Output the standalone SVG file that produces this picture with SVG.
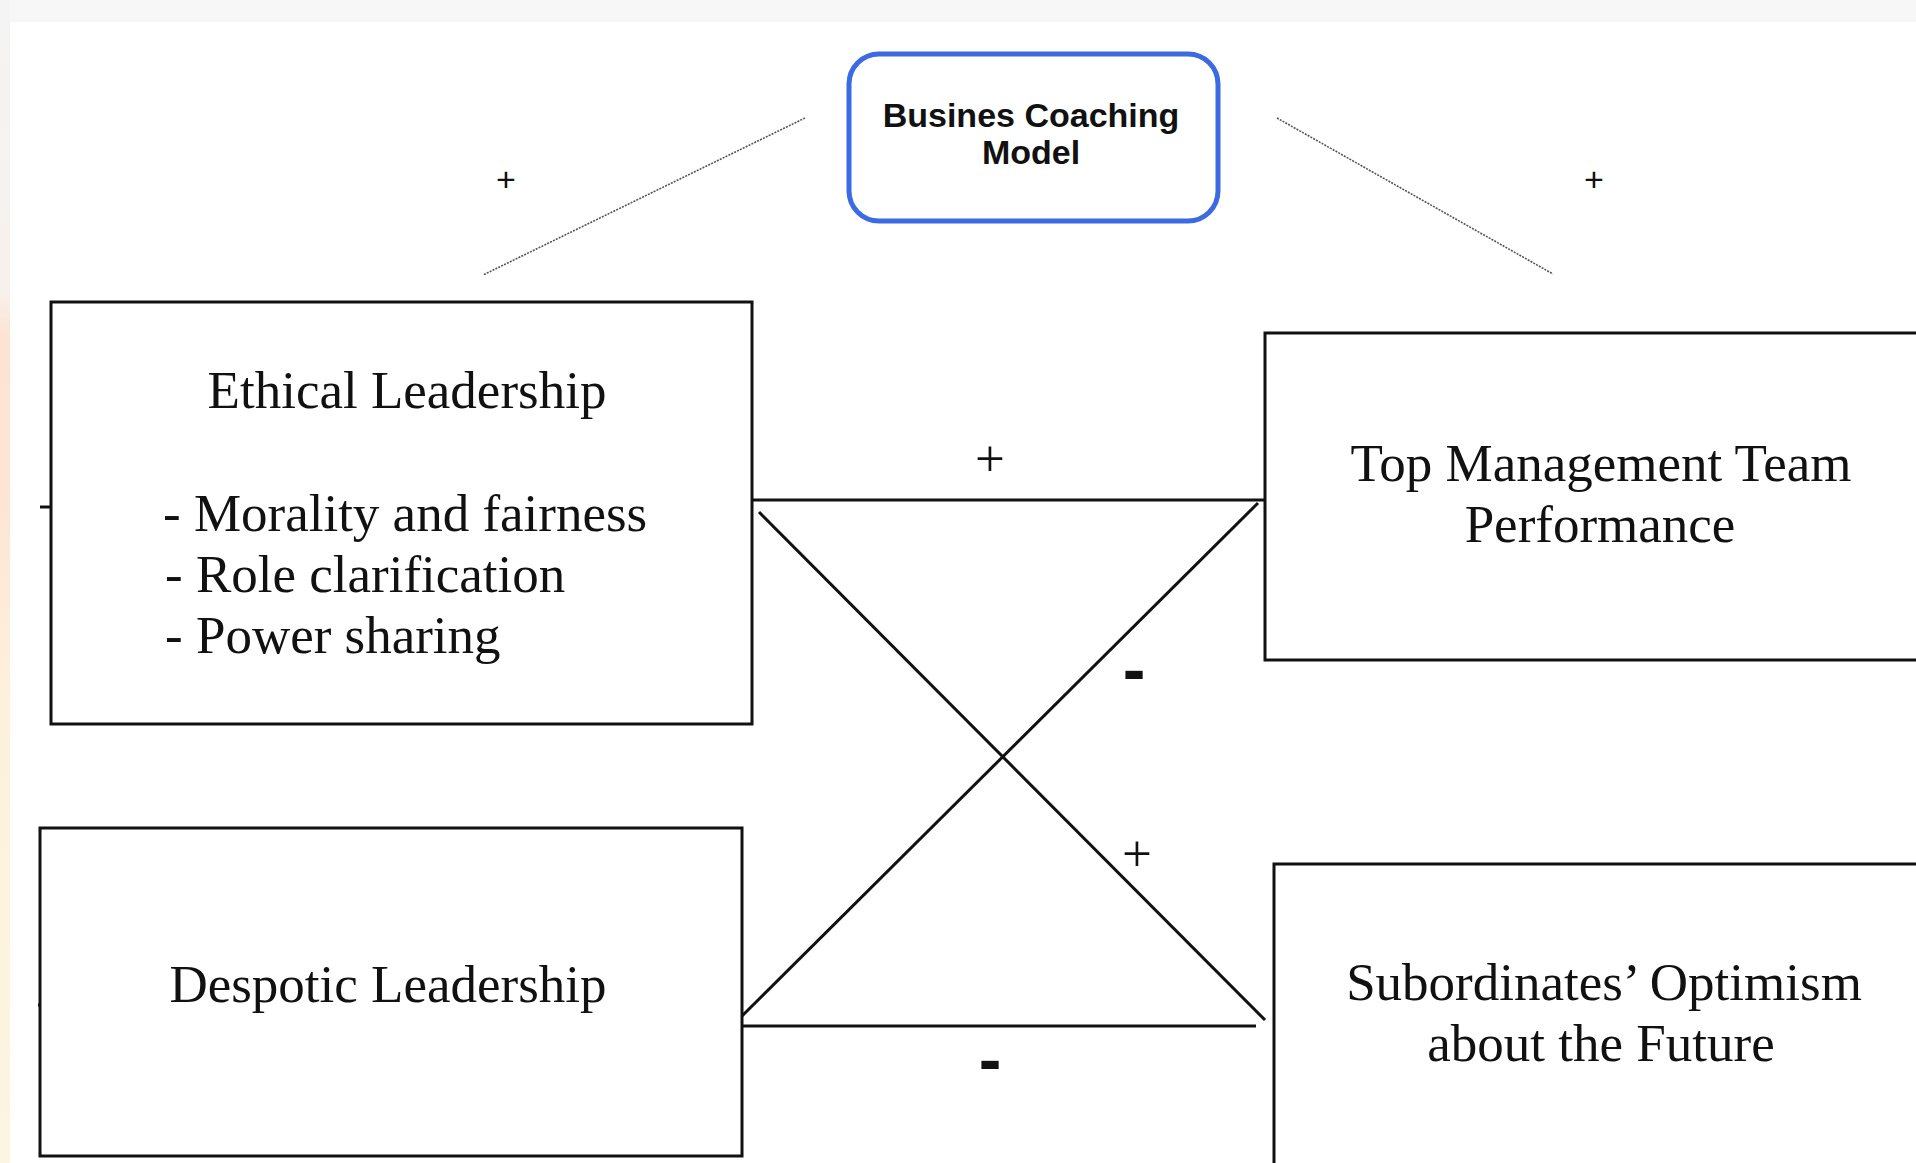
<svg xmlns="http://www.w3.org/2000/svg" width="1916" height="1163" viewBox="0 0 1916 1163">
  <style>
    .box { fill: #ffffff; stroke: #111111; stroke-width: 3; }
    .serif { font-family: "Liberation Serif", "Times New Roman", serif; fill: #111111; }
    .big { font-size: 53px; }
    .link { stroke: #111111; stroke-width: 3; fill: none; stroke-linecap: butt; }
    .dot { stroke: #555555; stroke-width: 1.6; stroke-dasharray: 2 1.2; fill: none; }
    .small-plus { font-family: "Liberation Sans", Arial, sans-serif; font-size: 34px; fill: #111111; }
    .minus { font-family: "Liberation Sans", Arial, sans-serif; font-weight: bold; font-size: 68px; fill: #111111; }
    .model { font-family: "Liberation Sans", Arial, sans-serif; font-weight: bold; font-size: 34px; fill: #111111; }
  </style>
  <defs>
    <linearGradient id="edgeTint" x1="0" y1="0" x2="0" y2="1">
      <stop offset="0" stop-color="#f4f4f4"/>
      <stop offset="0.25" stop-color="#f7f1ec"/>
      <stop offset="0.29" stop-color="#fde3d3"/>
      <stop offset="0.42" stop-color="#fde4d4"/>
      <stop offset="0.6" stop-color="#fdf1dc"/>
      <stop offset="1" stop-color="#fcf5e1"/>
    </linearGradient>
  </defs>

  <!-- page -->
  <rect x="0" y="0" width="1916" height="1163" fill="#ffffff"/>
  <rect x="0" y="0" width="1916" height="22" fill="#f7f7f7"/>
  <rect x="0" y="0" width="10" height="1163" fill="url(#edgeTint)"/>

  <!-- connectors -->
  <g id="connectors">
    <line class="dot" x1="805" y1="118" x2="483" y2="275"/>
    <line class="dot" x1="1277" y1="118" x2="1553" y2="274"/>
    <line class="link" x1="752" y1="500" x2="1265" y2="500"/>
    <line class="link" x1="759" y1="512" x2="1265" y2="1020"/>
    <line class="link" x1="742" y1="1016" x2="1258" y2="503"/>
    <line class="link" x1="742" y1="1026" x2="1256" y2="1026"/>
    <line class="link" x1="40" y1="507" x2="51" y2="507" stroke-width="2"/>
    <line class="link" x1="38" y1="1005" x2="42" y2="1005" stroke-width="2"/>
    <text class="small-plus" x="506" y="191" text-anchor="middle">+</text>
    <text class="small-plus" x="1594" y="191" text-anchor="middle">+</text>
    <text class="serif big" x="990" y="476" text-anchor="middle">+</text>
    <text class="serif big" x="1137" y="871" text-anchor="middle">+</text>
    <text class="minus" x="1134" y="693" text-anchor="middle">-</text>
    <text class="minus" x="990" y="1083" text-anchor="middle">-</text>
  </g>

  <!-- Business coaching model -->
  <g id="coaching">
    <rect x="849" y="54" width="369" height="167" rx="30" ry="30" fill="#ffffff" stroke="#3b6ae2" stroke-width="5"/>
    <text class="model" x="1031" y="127" text-anchor="middle">Busines Coaching</text>
    <text class="model" x="1031" y="164" text-anchor="middle">Model</text>
  </g>

  <!-- Ethical leadership -->
  <g id="ethical">
    <rect class="box" x="51" y="302" width="701" height="422"/>
    <text class="serif big" x="407" y="408" text-anchor="middle">Ethical Leadership</text>
    <text class="serif big" x="163" y="531">- Morality and fairness</text>
    <text class="serif big" x="165" y="592">- Role clarification</text>
    <text class="serif big" x="165" y="653">- Power sharing</text>
  </g>

  <!-- Despotic leadership -->
  <g id="despotic">
    <rect class="box" x="40" y="828" width="702" height="328"/>
    <text class="serif big" x="388" y="1002" text-anchor="middle">Despotic Leadership</text>
  </g>

  <!-- Top management team performance -->
  <g id="tmt">
    <rect class="box" x="1265" y="333" width="680" height="327"/>
    <text class="serif big" x="1601" y="481" text-anchor="middle">Top Management Team</text>
    <text class="serif big" x="1600" y="542" text-anchor="middle">Performance</text>
  </g>

  <!-- Subordinates' optimism -->
  <g id="optimism">
    <rect class="box" x="1274" y="864" width="680" height="330"/>
    <text class="serif big" x="1604" y="1000" text-anchor="middle">Subordinates’ Optimism</text>
    <text class="serif big" x="1601" y="1061" text-anchor="middle">about the Future</text>
  </g>
</svg>
